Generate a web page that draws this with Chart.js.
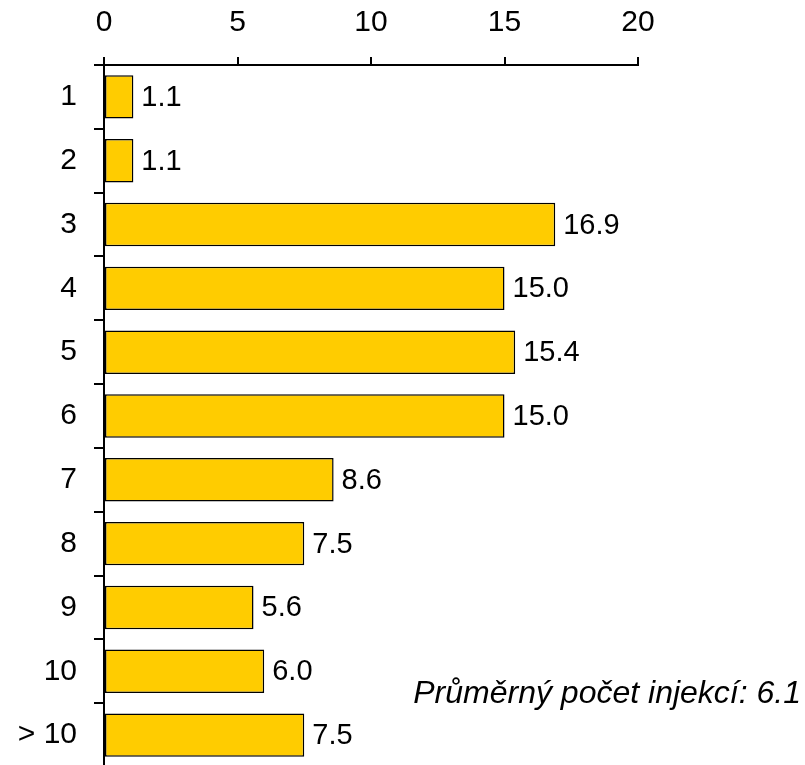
<!DOCTYPE html>
<html>
<head>
<meta charset="utf-8">
<script src="https://cdn.jsdelivr.net/npm/chart.js@4/dist/chart.umd.min.js"></script>
<style>
  html, body { margin: 0; padding: 0; background: #fff; overflow: hidden; }
  #wrap { width: 805px; height: 770px; }
</style>
</head>
<body>
<div id="wrap"><canvas id="c" width="805" height="770"></canvas></div>
<script>
// Number of injections per patient (share in %)
const categories = ['1', '2', '3', '4', '5', '6', '7', '8', '9', '10', '> 10'];
const shares = [1.1, 1.1, 16.9, 15.0, 15.4, 15.0, 8.6, 7.5, 5.6, 6.0, 7.5];
const xTicks = [0, 5, 10, 15, 20];
const meanNote = 'Průměrný počet injekcí: 6.1';

const FONT = '"Liberation Sans", Arial, sans-serif';

// Value labels at the end of each bar
const valueLabels = {
  id: 'valueLabels',
  afterDatasetsDraw(chart) {
    const ctx = chart.ctx;
    const meta = chart.getDatasetMeta(0);
    ctx.save();
    ctx.font = '29px ' + FONT;
    ctx.fillStyle = '#000';
    ctx.textAlign = 'left';
    ctx.textBaseline = 'middle';
    meta.data.forEach((bar, i) => {
      ctx.fillText(shares[i].toFixed(1), bar.x + 8, bar.y + 1);
    });
    ctx.restore();
  }
};

// Mean note in the lower right corner
const noteText = {
  id: 'noteText',
  afterDraw(chart) {
    const ctx = chart.ctx;
    ctx.save();
    ctx.font = 'italic 32px ' + FONT;
    ctx.fillStyle = '#000';
    ctx.textAlign = 'right';
    ctx.textBaseline = 'alphabetic';
    ctx.fillText(meanNote, 801, 703);
    ctx.restore();
  }
};

new Chart(document.getElementById('c'), {
  type: 'bar',
  data: {
    labels: categories,
    datasets: [{
      data: shares,
      backgroundColor: '#FFCC00',
      borderColor: '#000',
      borderWidth: 1.5,
      borderSkipped: false,
      barPercentage: 0.68,
      categoryPercentage: 1.0
    }]
  },
  options: {
    indexAxis: 'y',
    responsive: false,
    animation: false,
    layout: { padding: { left: 0, right: 167, top: 0, bottom: 3 } },
    plugins: {
      legend: { display: false },
      tooltip: { enabled: false }
    },
    scales: {
      x: {
        position: 'top',
        min: 0,
        max: 20,
        afterBuildTicks(scale) { scale.ticks = xTicks.map(v => ({ value: v })); },
        afterFit(scale) {
          scale.height = 65;
          scale.paddingLeft = 0;
          scale.paddingRight = 0;
        },
        grid: {
          drawOnChartArea: false,
          drawTicks: true,
          tickLength: 8,
          color: '#000',
          lineWidth: 2
        },
        border: { display: true, color: '#000', width: 2 },
        ticks: {
          color: '#000',
          font: { family: FONT, size: 30 },
          padding: 16
        }
      },
      y: {
        offset: true,
        afterFit(scale) {
          scale.width = 104;
          scale.paddingTop = 0;
          scale.paddingBottom = 0;
        },
        grid: {
          offset: true,
          drawOnChartArea: false,
          drawTicks: true,
          tickLength: 10,
          color: '#000',
          lineWidth: 2
        },
        border: { display: true, color: '#000', width: 2 },
        ticks: {
          color: '#000',
          font: { family: FONT, size: 30 },
          padding: 17
        }
      }
    }
  },
  plugins: [valueLabels, noteText]
});
</script>
</body>
</html>
